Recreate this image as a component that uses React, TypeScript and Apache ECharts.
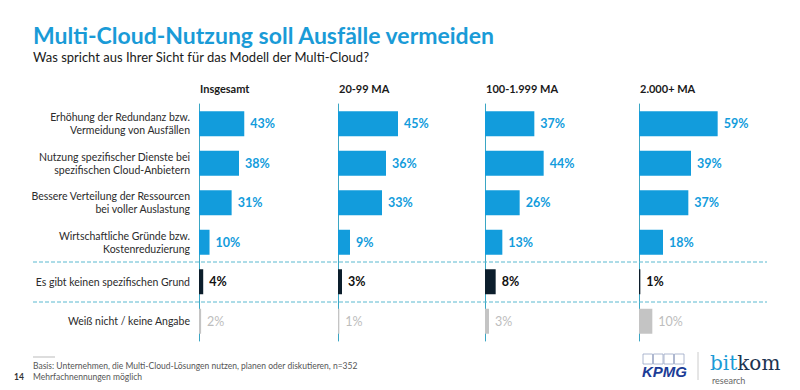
import React, { useEffect, useRef } from "react";
import * as echarts from "echarts";

const categories = [
  "Erhöhung der Redundanz bzw.\nVermeidung von Ausfällen",
  "Nutzung spezifischer Dienste bei\nspezifischen Cloud-Anbietern",
  "Bessere Verteilung der Ressourcen\nbei voller Auslastung",
  "Wirtschaftliche Gründe bzw.\nKostenreduzierung",
  "Es gibt keinen spezifischen Grund",
  "Weiß nicht / keine Angabe",
];
const groups = ["Insgesamt", "20-99 MA", "100-1.999 MA", "2.000+ MA"];
const insgesamt = [43, 38, 31, 10, 4, 2];
const ma20to99 = [45, 36, 33, 9, 3, 1];
const ma100to1999 = [37, 44, 26, 13, 8, 3];
const ma2000plus = [59, 39, 37, 18, 1, 10];
const seriesValues = [insgesamt, ma20to99, ma100to1999, ma2000plus];

const BLUE = "#129cdc";
const DARK = "#0c1e2c";
const GREY = "#c4c4c4";
const AXIS = "#3aa6c4";
const FONT = "Lato, 'Open Sans', sans-serif";

const lefts = [199, 338, 485, 639];
const maxes = [114, 90, 90, 90];
const GRID_TOP = 104;
const GRID_H = 237;

export default function App() {
  const ref = useRef<HTMLDivElement>(null);
  useEffect(() => {
    if (!ref.current) return;
    const chart = echarts.init(ref.current, null, { renderer: "svg" });
    const grids = lefts.map((l) => ({ left: l, top: GRID_TOP, width: 120, height: GRID_H }));
    const xAxes = lefts.map((_, i) => ({
      type: "value",
      gridIndex: i,
      min: 0,
      max: maxes[i],
      show: false,
    }));
    const yAxes = lefts.map((_, i) => ({
      type: "category",
      gridIndex: i,
      data: categories,
      inverse: true,
      axisTick: { show: false },
      axisLine: { show: true, lineStyle: { color: AXIS, width: 1 } },
      axisLabel: {
        show: i === 0,
        color: "#2b2b2b",
        fontSize: 10.5,
        lineHeight: 13,
        margin: 9,
        fontFamily: FONT,
        align: "right",
      },
      splitLine: { show: false },
    }));
    const series = seriesValues.map((vals, i) => ({
      type: "bar",
      xAxisIndex: i,
      yAxisIndex: i,
      barWidth: 25,
      z: 1,
      data: vals.map((v, r) => {
        const color = r < 4 ? BLUE : r === 4 ? DARK : GREY;
        const lcolor = r < 4 ? BLUE : r === 4 ? "#111" : "#bdbdbd";
        return {
          value: v,
          itemStyle: { color },
          label: {
            show: true,
            position: "right",
            distance: 6,
            formatter: "{c}%",
            color: lcolor,
            fontWeight: r === 5 ? "normal" : "bold",
            fontSize: 12.5,
            fontFamily: FONT,
          },
        };
      }),
    }));
    const headers = groups.map((g, i) => ({
      type: "text",
      x: lefts[i] + 1,
      y: 88,
      style: {
        text: g,
        fill: "#1a1a1a",
        font: `bold 11px ${FONT}`,
        textVerticalAlign: "middle",
      },
    }));
    const dashed = [262, 302].map((y) => ({
      type: "line",
      shape: { x1: 33, y1: y, x2: 767, y2: y },
      style: { stroke: "#5bb9d0", lineWidth: 1, lineDash: [4, 2] },
      z: 10,
    }));
    const kpmgBoxes = [0, 1, 2, 3].map((k) => ({
      type: "rect",
      shape: { x: 643 + k * 10.5, y: 354, width: 9.5, height: 10 },
      style: { fill: "none", stroke: "#9aa6c4", lineWidth: 0.8 },
    }));
    chart.setOption({
      animation: false,
      grid: grids,
      xAxis: xAxes,
      yAxis: yAxes,
      series,
      graphic: [
        {
          type: "text",
          x: 33,
          y: 35,
          style: {
            text: "Multi-Cloud-Nutzung soll Ausfälle vermeiden",
            fill: "#1a9bd7",
            font: `bold 23px ${FONT}`,
            textVerticalAlign: "middle",
          },
        },
        {
          type: "text",
          x: 33,
          y: 57,
          style: {
            text: "Was spricht aus Ihrer Sicht für das Modell der Multi-Cloud?",
            fill: "#1a1a1a",
            font: `13px ${FONT}`,
            textVerticalAlign: "middle",
          },
        },
        ...headers,
        ...dashed,
        {
          type: "line",
          shape: { x1: 33, y1: 357, x2: 55, y2: 357 },
          style: { stroke: "#bbbbbb", lineWidth: 1 },
        },
        {
          type: "text",
          x: 33,
          y: 366,
          style: {
            text: "Basis: Unternehmen, die Multi-Cloud-Lösungen nutzen, planen oder diskutieren, n=352",
            fill: "#555",
            font: `8.5px ${FONT}`,
            textVerticalAlign: "middle",
          },
        },
        {
          type: "text",
          x: 33,
          y: 377,
          style: {
            text: "Mehrfachnennungen möglich",
            fill: "#555",
            font: `8.5px ${FONT}`,
            textVerticalAlign: "middle",
          },
        },
        {
          type: "text",
          x: 14,
          y: 377,
          style: {
            text: "14",
            fill: "#333",
            font: `bold 8.5px ${FONT}`,
            textVerticalAlign: "middle",
          },
        },
        ...kpmgBoxes,
        {
          type: "text",
          x: 642,
          y: 371,
          style: {
            text: "KPMG",
            fill: "#1c3c96",
            font: `italic bold 15px 'Liberation Sans', Arial, sans-serif`,
            textVerticalAlign: "middle",
          },
        },
        {
          type: "line",
          shape: { x1: 698, y1: 352, x2: 698, y2: 380 },
          style: { stroke: "#cccccc", lineWidth: 1 },
        },
        {
          type: "text",
          x: 710,
          y: 363,
          style: {
            rich: {
              a: { fill: "#1a9bd7", font: `20px 'DejaVu Serif', 'Liberation Serif', serif` },
              b: { fill: "#1d3450", font: `20px 'DejaVu Serif', 'Liberation Serif', serif` },
            },
            text: "{a|bit}{b|kom}",
            textVerticalAlign: "middle",
          },
        },
        {
          type: "text",
          x: 712,
          y: 380,
          style: {
            text: "research",
            fill: "#666",
            font: `9px ${FONT}`,
            textVerticalAlign: "middle",
          },
        },
      ],
    });
    return () => chart.dispose();
  }, []);
  return <div ref={ref} style={{ width: 800, height: 390, position: "absolute", left: 0, top: 0, background: "#fff" }} />;
}
